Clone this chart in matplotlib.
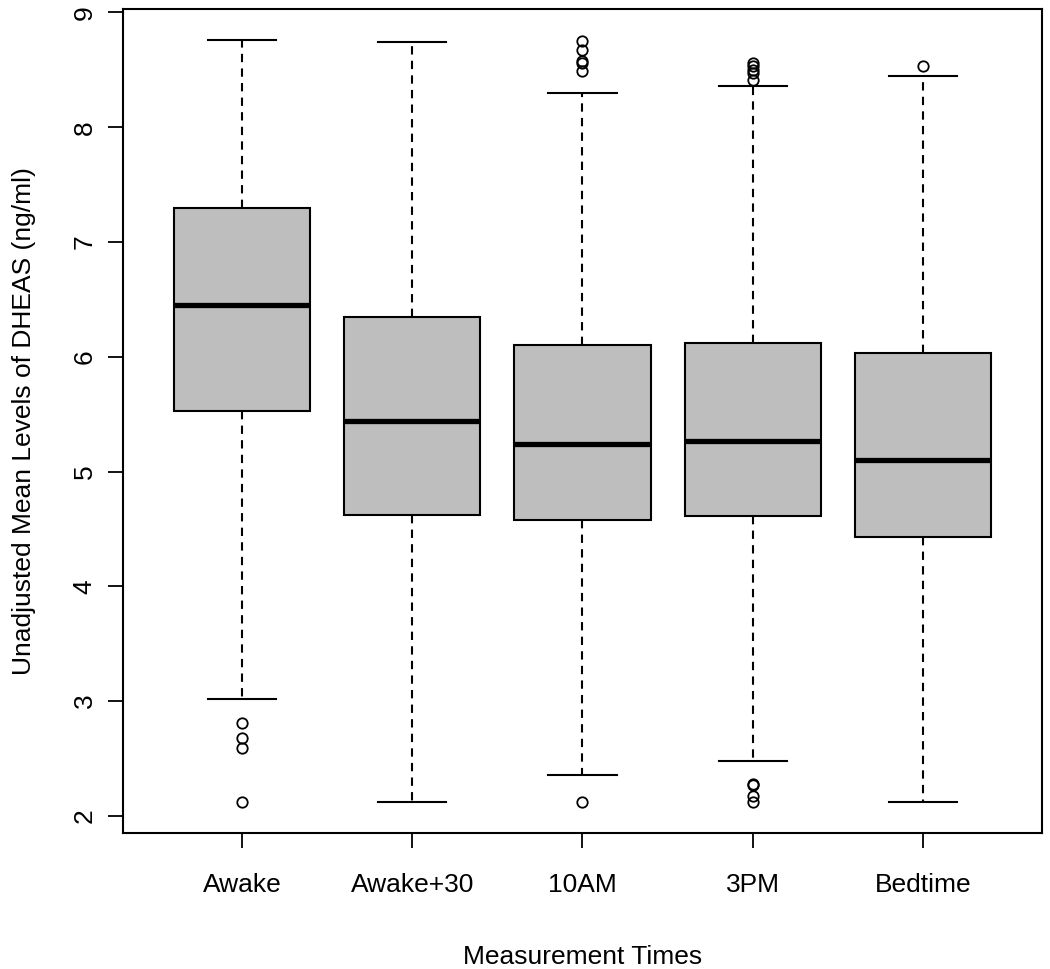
import matplotlib
matplotlib.use("Agg")
import matplotlib.pyplot as plt

plt.rcParams["font.family"] = ["Liberation Sans", "DejaVu Sans"]

# values
times = ["Awake", "Awake+30", "10AM", "3PM", "Bedtime"]
whislo = [3.02, 2.12, 2.36, 2.48, 2.12]
q1 = [5.53, 4.62, 4.58, 4.61, 4.43]
med = [6.45, 5.44, 5.24, 5.27, 5.10]
q3 = [7.30, 6.35, 6.10, 6.12, 6.03]
whishi = [8.76, 8.74, 8.30, 8.36, 8.45]
fliers = [
    [2.81, 2.68, 2.59, 2.12],
    [],
    [8.75, 8.67, 8.58, 8.56, 8.49, 2.12],
    [8.56, 8.53, 8.50, 8.47, 8.41, 2.28, 2.27, 2.17, 2.12],
    [8.53],
]

stats = []
for i, name in enumerate(times):
    stats.append({"label": name, "whislo": whislo[i], "q1": q1[i], "med": med[i],
                  "q3": q3[i], "whishi": whishi[i], "fliers": fliers[i]})

fig = plt.figure(figsize=(10.5, 9.69), dpi=100)
ax = fig.add_axes([0.1171, 0.1403, 0.8753, 0.8504])

ax.bxp(stats, positions=range(1, 6), widths=0.8, patch_artist=True,
       boxprops=dict(facecolor="#bebebe", edgecolor="black", linewidth=1.5),
       medianprops=dict(color="black", linewidth=3.8, solid_capstyle="butt"),
       whiskerprops=dict(color="black", linewidth=1.5, linestyle=(0, (4, 3))),
       capprops=dict(color="black", linewidth=1.5),
       capwidths=0.4,
       flierprops=dict(marker="o", markerfacecolor="none", markeredgecolor="black",
                       markersize=7.5, markeredgewidth=1.3))

ax.set_xlim(0.3, 5.7)
ax.set_ylim(1.85, 9.03)
ax.set_yticks(range(2, 10))
ax.tick_params(axis="both", direction="out", length=11, width=1.3, labelsize=19, pad=8)
plt.setp(ax.get_yticklabels(), rotation=90, va="center")
ax.tick_params(axis="x", pad=18)
for s in ax.spines.values():
    s.set_linewidth(1.5)

ax.set_xlabel("Measurement Times", fontsize=19, labelpad=34)
ax.set_ylabel("Unadjusted Mean Levels of DHEAS (ng/ml)", fontsize=19, labelpad=26)

fig.savefig("out.png", dpi=100)
